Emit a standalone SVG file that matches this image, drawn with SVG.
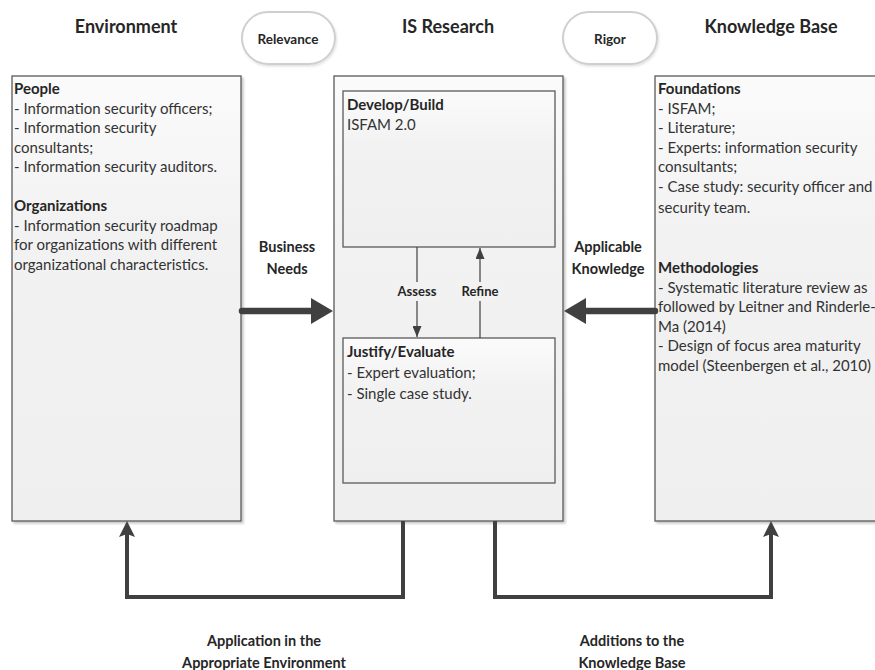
<svg xmlns="http://www.w3.org/2000/svg" width="875" height="670" viewBox="0 0 875 670">
<defs>
<linearGradient id="boxfill" x1="0" y1="0" x2="0" y2="1">
<stop offset="0" stop-color="#fbfbfb"/>
<stop offset="0.35" stop-color="#f2f2f2"/>
<stop offset="1" stop-color="#efefef"/>
</linearGradient>
<filter id="shadow" x="-5%" y="-5%" width="115%" height="115%">
<feDropShadow dx="2" dy="2" stdDeviation="1.2" flood-color="#000" flood-opacity="0.22"/>
</filter>
<filter id="pillshadow" x="-10%" y="-10%" width="125%" height="130%">
<feDropShadow dx="1" dy="1.5" stdDeviation="1" flood-color="#000" flood-opacity="0.12"/>
</filter>
<marker id="bigHead" viewBox="0 0 22 26" refX="7" refY="13" markerUnits="userSpaceOnUse" markerWidth="22" markerHeight="26" orient="auto">
<path d="M0,0 L22,13 L0,26 Z" fill="#404040"/>
</marker>
<marker id="medHead" viewBox="0 0 16 16" refX="4" refY="8" markerUnits="userSpaceOnUse" markerWidth="16" markerHeight="16" orient="auto">
<path d="M0,0 L16,8 L0,16 L3,8 Z" fill="#404040"/>
</marker>
<marker id="smallHead" viewBox="0 0 11 9" refX="11" refY="4.5" markerUnits="userSpaceOnUse" markerWidth="11" markerHeight="9" orient="auto">
<path d="M0,0 L11,4.5 L0,9 Z" fill="#404040"/>
</marker>
</defs>
<style>
.box{fill:url(#boxfill);stroke:#5a5a5a;stroke-width:1.3;}
.pill{fill:#ffffff;stroke:#cfcfcf;stroke-width:2;}
.title{font-family:Lato,"Open Sans",sans-serif;font-weight:bold;font-size:18px;fill:#262626;text-anchor:middle;}
.pilltxt{font-family:Lato,"Open Sans",sans-serif;font-weight:bold;font-size:13.5px;fill:#262626;text-anchor:middle;}
.body{font-family:Lato,"Open Sans",sans-serif;font-size:15px;fill:#333333;}
.head{font-family:Lato,"Open Sans",sans-serif;font-size:15px;font-weight:bold;fill:#262626;}
.lbl{font-family:Lato,"Open Sans",sans-serif;font-weight:bold;font-size:14.5px;fill:#262626;text-anchor:middle;}
.blbl{font-family:Lato,"Open Sans",sans-serif;font-weight:bold;font-size:14.5px;fill:#262626;text-anchor:middle;}
.slbl{font-family:Lato,"Open Sans",sans-serif;font-weight:bold;font-size:13px;fill:#262626;text-anchor:middle;}
.thick{fill:none;stroke:#404040;stroke-width:6.5;stroke-linecap:round;}
.mid{fill:none;stroke:#404040;stroke-width:4;stroke-linejoin:miter;}
.thin{fill:none;stroke:#404040;stroke-width:1.2;}
</style>
<rect width="875" height="670" fill="#ffffff"/>

<g id="titles">
<text class="title" x="126" y="33">Environment</text>
<text class="title" x="448" y="33">IS Research</text>
<text class="title" x="771" y="33">Knowledge Base</text>
</g>

<g id="relevance">
<rect class="pill" filter="url(#pillshadow)" x="242" y="12" width="93" height="52" rx="26"/>
<text class="pilltxt" x="288" y="44">Relevance</text>
</g>
<g id="rigor">
<rect class="pill" filter="url(#pillshadow)" x="563" y="12" width="94" height="52" rx="26"/>
<text class="pilltxt" x="610" y="44">Rigor</text>
</g>

<g id="environment">
<rect class="box" filter="url(#shadow)" x="12" y="76" width="229" height="445"/>
<text class="head" x="14" y="94">People</text>
<text class="body" x="14" y="113.5">- Information security officers;</text>
<text class="body" x="14" y="133">- Information security</text>
<text class="body" x="14" y="152.5">consultants;</text>
<text class="body" x="14" y="172">- Information security auditors.</text>
<text class="head" x="14" y="211">Organizations</text>
<text class="body" x="14" y="230.5">- Information security roadmap</text>
<text class="body" x="14" y="250">for organizations with different</text>
<text class="body" x="14" y="269.5">organizational characteristics.</text>
</g>

<g id="is-research">
<rect class="box" filter="url(#shadow)" x="334" y="76" width="229" height="445"/>
</g>

<g id="develop-build">
<rect class="box" x="343" y="91" width="212" height="156"/>
<text class="head" x="347" y="110">Develop/Build</text>
<text class="body" x="347" y="129.5">ISFAM 2.0</text>
</g>

<g id="justify-evaluate">
<rect class="box" x="343" y="338" width="212" height="145"/>
<text class="head" x="347" y="357">Justify/Evaluate</text>
<text class="body" x="347" y="378">- Expert evaluation;</text>
<text class="body" x="347" y="399">- Single case study.</text>
</g>

<g id="knowledge-base">
<rect class="box" filter="url(#shadow)" x="655" y="76" width="240" height="445"/>
<text class="head" x="658" y="94">Foundations</text>
<text class="body" x="658" y="113.5">- ISFAM;</text>
<text class="body" x="658" y="133">- Literature;</text>
<text class="body" x="658" y="152.5">- Experts: information security</text>
<text class="body" x="658" y="172">consultants;</text>
<text class="body" x="658" y="192">- Case study: security officer and</text>
<text class="body" x="658" y="213">security team.</text>
<text class="head" x="658" y="273">Methodologies</text>
<text class="body" x="658" y="292.5">- Systematic literature review as</text>
<text class="body" x="658" y="312">followed by Leitner and Rinderle-</text>
<text class="body" x="658" y="331.5">Ma (2014)</text>
<text class="body" x="658" y="351">- Design of focus area maturity</text>
<text class="body" x="658" y="370.5">model (Steenbergen et al., 2010)</text>
</g>

<g id="connectors">
<line class="thick" x1="242" y1="311" x2="318" y2="311" marker-end="url(#bigHead)"/>
<line class="thick" x1="655" y1="311" x2="579" y2="311" marker-end="url(#bigHead)"/>
<line class="thin" x1="417" y1="247" x2="417" y2="337" marker-end="url(#smallHead)"/>
<line class="thin" x1="480" y1="338" x2="480" y2="248" marker-end="url(#smallHead)"/>
<rect x="395" y="282" width="44" height="19" fill="#f2f2f2"/>
<rect x="459" y="282" width="42" height="19" fill="#f2f2f2"/>
<text class="slbl" x="417" y="296">Assess</text>
<text class="slbl" x="480" y="296">Refine</text>
<path class="mid" d="M403,521 V597 H127 V533" marker-end="url(#medHead)"/>
<path class="mid" d="M495,521 V597 H771 V533" marker-end="url(#medHead)"/>
<text class="lbl" x="287" y="252">Business</text>
<text class="lbl" x="287" y="274">Needs</text>
<text class="lbl" x="608" y="252">Applicable</text>
<text class="lbl" x="608" y="274">Knowledge</text>
<text class="blbl" x="264" y="646">Application in the</text>
<text class="blbl" x="264" y="668">Appropriate Environment</text>
<text class="blbl" x="632" y="646">Additions to the</text>
<text class="blbl" x="632" y="668">Knowledge Base</text>
</g>
</svg>
